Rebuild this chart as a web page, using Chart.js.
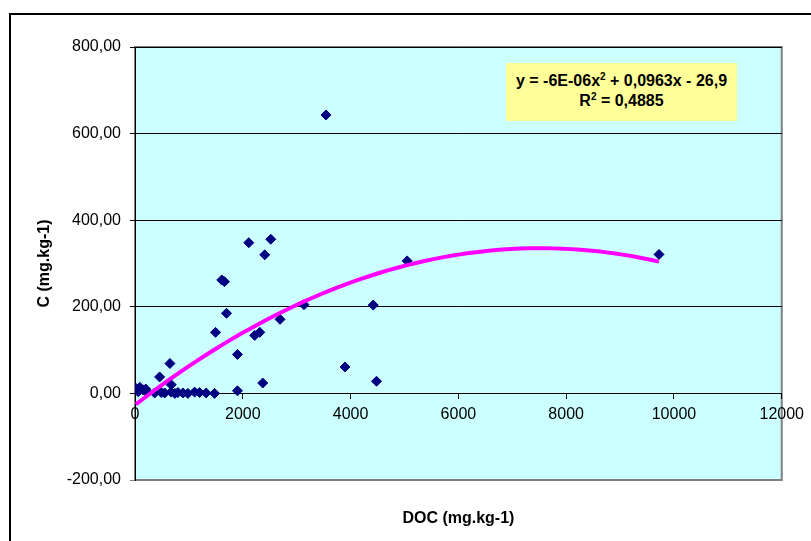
<!DOCTYPE html>
<html>
<head>
<meta charset="utf-8">
<script src="https://cdn.jsdelivr.net/npm/chart.js@4/dist/chart.umd.min.js"></script>
<style>
  html, body { margin: 0; padding: 0; background: #fff; overflow: hidden; }
  #frame { position: absolute; left: 9px; top: 13px; width: 900px; height: 600px;
           border-left: 2px solid #000; border-top: 2px solid #000; }
  #grafico { position: absolute; left: 0; top: 0; }
  #ecuacion { position: absolute; left: 506px; top: 63px; width: 231px; height: 58px;
              background: #FFFF99; font: bold 16px "Liberation Sans", Arial, sans-serif;
              color: #000; text-align: center; line-height: 20px; box-sizing: border-box;
              padding-top: 8px; }
  #ecuacion sup { font-size: 10px; line-height: 0; vertical-align: 6px; }
</style>
</head>
<body>
<div id="frame"></div>
<canvas id="grafico" width="811" height="541"></canvas>
<div id="ecuacion">y = -6E-06x<sup>2</sup> + 0,0963x - 26,9<br>R<sup>2</sup> = 0,4885</div>
<script>
// Datos: DOC (mg.kg-1) y C (mg.kg-1)
const docValores = [15, 60, 90, 150, 200, 230, 365, 487, 550, 672, 740, 796, 889, 981, 1106, 1198, 1320, 1476,
  457, 648, 673, 1494, 1610, 1660, 1698, 1901, 1901, 2111, 2222, 2315, 2370, 2407, 2519, 2691,
  3135, 3543, 3897, 4420, 4481, 5050, 9722];
const cValores = [12, 4, 14, 8, 10, 2, 1, 2, 1, 3, 0, 2, 1, 0, 3, 2, 1, 0,
  38, 69, 20, 141, 262, 258, 185, 90, 6, 348, 134, 141, 24, 320, 356, 171,
  205, 643, 61, 204, 28, 306, 321];

// Ticks de los ejes
const ticksX = [0, 2000, 4000, 6000, 8000, 10000, 12000];
const ticksY = [-200, 0, 200, 400, 600, 800];

// Línea de tendencia polinómica (orden 2)
const coefA = -6.4e-6;
const coefB = 0.0963;
const coefC = -26.9;

const puntos = docValores.map((x, i) => ({ x: x, y: cValores[i] }));

const xMin = Math.min(...docValores);
const xMax = Math.max(...docValores);
const tendencia = [];
for (let i = 0; i <= 60; i++) {
  const x = xMin + (xMax - xMin) * i / 60;
  tendencia.push({ x: x, y: coefA * x * x + coefB * x + coefC });
}

const fuente = "'Liberation Sans', Arial, sans-serif";

// Fondo cian y borde gris del área de trazado
const fondoArea = {
  id: 'fondoArea',
  beforeDraw(chart) {
    const { ctx, chartArea: a } = chart;
    ctx.save();
    ctx.fillStyle = '#CCFFFF';
    ctx.fillRect(a.left, a.top, a.right - a.left, a.bottom - a.top);
    ctx.strokeStyle = '#808080';
    ctx.lineWidth = 2;
    ctx.strokeRect(a.left, a.top, a.right - a.left, a.bottom - a.top);
    ctx.restore();
  }
};

new Chart(document.getElementById('grafico'), {
  type: 'scatter',
  data: {
    datasets: [
      {
        type: 'line',
        label: 'Tendencia',
        data: tendencia,
        borderColor: '#FF00FF',
        borderWidth: 4,
        pointRadius: 0,
        fill: false,
        tension: 0
      },
      {
        label: 'C',
        data: puntos,
        pointStyle: 'rectRot',
        pointRadius: 5,
        backgroundColor: '#000080',
        borderColor: '#000080',
        borderWidth: 1
      }
    ]
  },
  options: {
    responsive: false,
    animation: false,
    layout: { padding: { top: 47, right: 27, bottom: 61, left: 0 } },
    plugins: { legend: { display: false }, tooltip: { enabled: false } },
    scales: {
      y: {
        position: 'left',
        min: -200,
        max: 800,
        afterBuildTicks: (s) => { s.ticks = ticksY.map(v => ({ value: v })); },
        afterFit: (s) => { s.width = 135; },
        ticks: {
          padding: 9,
          color: '#000',
          font: { family: fuente, size: 16 },
          callback: (v) => v.toFixed(2).replace('.', ',')
        },
        grid: {
          color: (c) => c.tick && c.tick.value === -200 ? '#808080' : '#000',
          lineWidth: 1,
          tickLength: 5
        },
        border: { color: '#000', width: 1 },
        title: {
          display: true,
          text: 'C (mg.kg-1)',
          color: '#000',
          font: { family: fuente, size: 16, weight: 'bold' },
          padding: { top: 35, bottom: 0 }
        }
      },
      x: {
        type: 'linear',
        position: { y: 0 },
        min: 0,
        max: 12000,
        afterBuildTicks: (s) => { s.ticks = ticksX.map(v => ({ value: v })); },
        ticks: {
          padding: 7,
          color: '#000',
          maxRotation: 0,
          font: { family: fuente, size: 16 },
          callback: (v) => String(v)
        },
        grid: { drawOnChartArea: false, color: '#000', tickLength: 5 },
        border: { color: '#000', width: 1 },
        title: {
          display: true,
          text: 'DOC (mg.kg-1)',
          color: '#000',
          font: { family: fuente, size: 16, weight: 'bold' },
          padding: { top: 77, bottom: 0 }
        }
      }
    }
  },
  plugins: [fondoArea]
});
</script>
</body>
</html>
